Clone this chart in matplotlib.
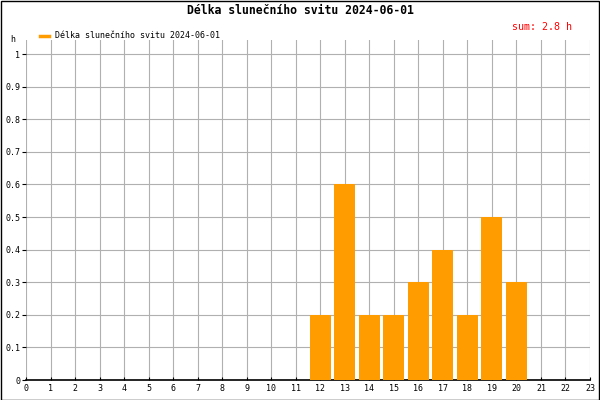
import matplotlib
matplotlib.use("Agg")
import matplotlib.pyplot as plt
from matplotlib.patches import Rectangle

hours = list(range(24))
sunshine = [0, 0, 0, 0, 0, 0, 0, 0, 0, 0, 0, 0,
            0.2, 0.6, 0.2, 0.2, 0.3, 0.4, 0.2, 0.5, 0.3, 0, 0, 0]
title = "Délka slunečního svitu 2024-06-01"
sum_label = "sum: 2.8 h"
yticks = [0, 0.1, 0.2, 0.3, 0.4, 0.5, 0.6, 0.7, 0.8, 0.9, 1]
ytick_labels = ["0", "0.1", "0.2", "0.3", "0.4", "0.5", "0.6", "0.7", "0.8", "0.9", "1"]

orange = "#ff9c00"
mono = "DejaVu Sans Mono"

fig = plt.figure(figsize=(6, 4), dpi=100)
ax = fig.add_axes([26 / 600, 20 / 400, 564 / 600, 340 / 400])

ax.bar(hours, sunshine, width=0.86, color=orange, zorder=3)

ax.set_xlim(0, 23)
ax.set_ylim(0, 1.043)
ax.set_xticks(hours)
ax.set_xticklabels([str(h) for h in hours], fontsize=6, family=mono)
ax.set_yticks(yticks)
ax.set_yticklabels(ytick_labels, fontsize=6, family=mono)
ax.tick_params(axis="x", direction="in", length=2, pad=3)
ax.tick_params(axis="y", direction="out", length=3, pad=1)
ax.grid(True, color="#b0b0b0", linewidth=0.8, zorder=0)
ax.set_axisbelow(True)
for s in ["left", "right", "top"]:
    ax.spines[s].set_visible(False)
ax.spines["bottom"].set_linewidth(1.2)

# popisky
fig.text(0.5, 0.975, title, ha="center", va="center", fontsize=8.3,
         fontweight="bold", family=mono)
fig.text(572 / 600, 1 - 27 / 400, sum_label, ha="right", va="center",
         fontsize=7.2, color="red", family=mono)
fig.text(13 / 600, 1 - 39 / 400, "h", ha="center", va="center",
         fontsize=6, family=mono)
fig.lines.append(plt.Line2D([40 / 600, 49 / 600], [1 - 36 / 400, 1 - 36 / 400],
                            color=orange, linewidth=2.5, transform=fig.transFigure))
fig.text(55 / 600, 1 - 36 / 400, title, ha="left", va="center",
         fontsize=6, family=mono)

# ramecek kolem obrazku
fig.patches.append(Rectangle((0.001, 0.001), 0.997, 0.997, fill=False,
                             edgecolor="black", linewidth=1.0,
                             transform=fig.transFigure))

fig.savefig("out.png", dpi=100)
